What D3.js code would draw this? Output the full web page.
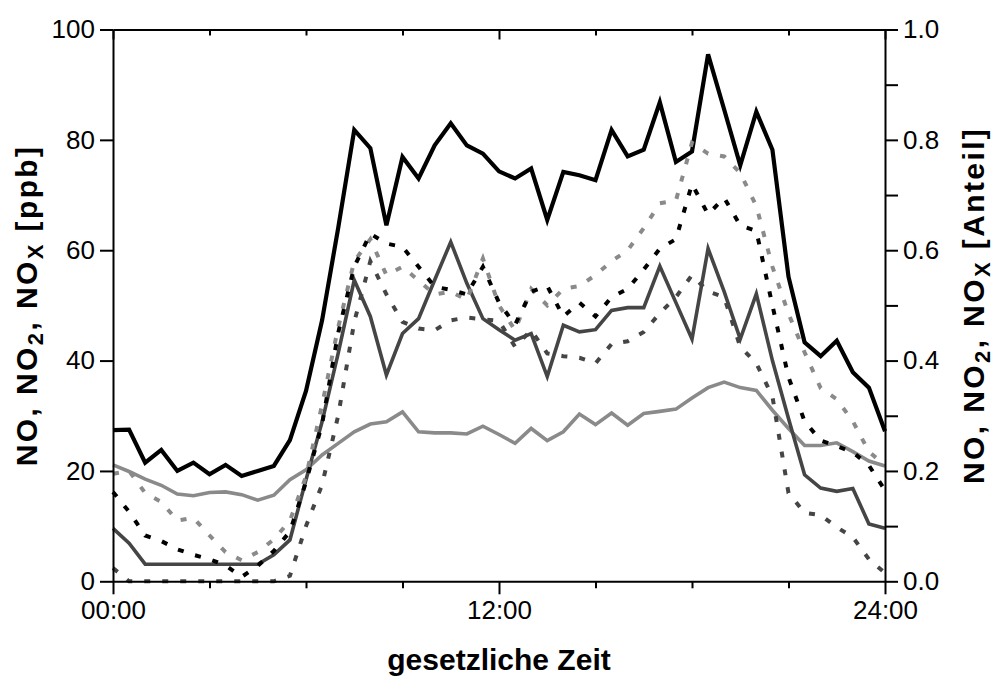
<!DOCTYPE html>
<html>
<head>
<meta charset="utf-8">
<script src="https://cdn.jsdelivr.net/npm/d3@7"></script>
<style>
  body { margin: 0; background: #fff; }
  svg text { font-family: Arial, "Liberation Sans", Helvetica, sans-serif; fill: #000; }
</style>
</head>
<body>
<svg id="chart" width="997" height="679"></svg>
<script>
// Half-hourly time steps over one day (hours)
const hours = [0, 0.5, 1, 1.5, 2, 2.5, 3, 3.5, 4, 4.5, 5, 5.5, 6, 6.5, 7, 7.5, 8, 8.5, 9, 9.5,
  10, 10.5, 11, 11.5, 12, 12.5, 13, 13.5, 14, 14.5, 15, 15.5, 16, 16.5, 17, 17.5, 18, 18.5, 19, 19.5,
  20, 20.5, 21, 21.5, 22, 22.5, 23, 23.5, 24];

// Concentrations [ppb]
const noxPpb = [27.4, 27.5, 21.5, 23.8, 20.0, 21.5, 19.4, 21.1, 19.1, 20.0, 20.9, 25.6, 34.5, 47.3, 64.0, 81.8,
  78.5, 64.5, 76.9, 73.0, 79.0, 83.0, 79.0, 77.5, 74.3, 73.0, 74.8, 65.5, 74.2, 73.6, 72.7, 81.8,
  77.0, 78.2, 86.8, 76.0, 77.9, 95.5, 85.5, 75.4, 85.1, 78.2, 55.2, 43.3, 40.8, 43.6, 37.9, 35.1, 27.2];
const noPpb = [9.6, 6.9, 3.1, 3.1, 3.1, 3.1, 3.1, 3.1, 3.1, 3.1, 4.8, 7.5, 18.4, 28.9, 41.3, 54.6,
  48.0, 37.4, 44.9, 47.6, 54.6, 61.5, 54.0, 47.6, 45.6, 43.7, 44.9, 37.1, 46.4, 45.2, 45.6, 49.1,
  49.6, 49.6, 57.1, 50.5, 43.9, 60.3, 52.5, 43.9, 52.1, 40.0, 29.5, 19.3, 16.9, 16.3, 16.8, 10.4, 9.6];
const no2Ppb = [21.1, 19.9, 18.5, 17.4, 15.8, 15.5, 16.1, 16.2, 15.7, 14.7, 15.6, 18.4, 20.2, 22.9, 25.0, 27.1,
  28.5, 28.9, 30.7, 27.1, 26.9, 26.9, 26.7, 28.1, 26.6, 25.0, 27.7, 25.5, 27.1, 30.3, 28.4, 30.5,
  28.3, 30.4, 30.8, 31.2, 33.2, 35.1, 36.1, 35.1, 34.6, 31.0, 27.7, 24.6, 24.6, 25.1, 23.5, 21.8, 20.9];

// Shares [Anteil]
const noxAnteil = [0.162, 0.126, 0.083, 0.073, 0.058, 0.048, 0.040, 0.029, 0.008, 0.028, 0.055, 0.090, 0.180, 0.285, 0.450, 0.570,
  0.630, 0.612, 0.606, 0.570, 0.534, 0.528, 0.520, 0.570, 0.505, 0.465, 0.525, 0.535, 0.480, 0.505, 0.480, 0.515,
  0.530, 0.565, 0.603, 0.620, 0.720, 0.665, 0.695, 0.645, 0.635, 0.500, 0.370, 0.290, 0.255, 0.245, 0.234, 0.210, 0.165];
const no2Anteil = [0.195, 0.200, 0.160, 0.144, 0.110, 0.115, 0.083, 0.053, 0.038, 0.053, 0.076, 0.110, 0.190, 0.320, 0.460, 0.580,
  0.620, 0.555, 0.570, 0.545, 0.520, 0.525, 0.510, 0.585, 0.500, 0.455, 0.530, 0.500, 0.530, 0.535, 0.555, 0.580,
  0.600, 0.640, 0.685, 0.690, 0.795, 0.775, 0.770, 0.740, 0.680, 0.570, 0.485, 0.415, 0.350, 0.330, 0.290, 0.235, 0.210];
const noAnteil = [0.024, 0, 0, 0, 0, 0, 0, 0, 0, 0, 0, 0.010, 0.100, 0.175, 0.300, 0.470,
  0.580, 0.520, 0.470, 0.458, 0.455, 0.473, 0.478, 0.475, 0.472, 0.425, 0.455, 0.413, 0.408, 0.405, 0.395, 0.430,
  0.435, 0.452, 0.486, 0.515, 0.555, 0.525, 0.515, 0.425, 0.395, 0.335, 0.160, 0.124, 0.120, 0.098, 0.080, 0.040, 0.015];

// Axis ticks and labels
const timeTicks = [0, 3, 6, 9, 12, 15, 18, 21, 24];
const timeLabels = { 0: "00:00", 12: "12:00", 24: "24:00" };
const ppbTicks = [0, 20, 40, 60, 80, 100];
const anteilTicks = [0, 0.1, 0.2, 0.3, 0.4, 0.5, 0.6, 0.7, 0.8, 0.9, 1.0];

const svg = d3.select("#chart");
const plotLeft = 113, plotRight = 885, plotTop = 29.5, plotBottom = 581.3;

const x = d3.scaleLinear().domain([0, 24]).range([plotLeft, plotRight]);
const yL = d3.scaleLinear().domain([0, 100]).range([plotBottom, plotTop]);
const yR = d3.scaleLinear().domain([0, 1]).range([plotBottom, plotTop]);

// Series drawing order: solid concentration lines, then dotted share lines
const series = [
  { values: no2Ppb, scale: yL, color: "#8a8a8a", width: 3.6, dash: null },
  { values: noPpb, scale: yL, color: "#454545", width: 3.6, dash: null },
  { values: noxPpb, scale: yL, color: "#000000", width: 4.2, dash: null },
  { values: noAnteil, scale: yR, color: "#454545", width: 4, dash: "6,12" },
  { values: no2Anteil, scale: yR, color: "#8a8a8a", width: 4, dash: "6,12" },
  { values: noxAnteil, scale: yR, color: "#000000", width: 4, dash: "6,12" }
];

const plot = svg.append("g");
series.forEach(s => {
  const line = d3.line()
    .x((d, i) => x(hours[i]))
    .y(d => s.scale(d));
  plot.append("path")
    .datum(s.values)
    .attr("d", line)
    .attr("fill", "none")
    .attr("stroke", s.color)
    .attr("stroke-width", s.width)
    .attr("stroke-linejoin", "miter")
    .attr("stroke-dasharray", s.dash);
});

const tickFont = "26px";

// Bottom axis
const gB = svg.append("g").attr("transform", `translate(0,${plotBottom})`)
  .call(d3.axisBottom(x).tickValues(timeTicks).tickSizeOuter(0).tickPadding(4)
    .tickFormat(d => timeLabels[d] || ""));
gB.selectAll(".tick line").attr("y2", d => (d % 12 === 0 ? 13 : 7));
gB.selectAll(".tick text").attr("y", 19);

// Top axis (inward ticks, no labels)
const gT = svg.append("g").attr("transform", `translate(0,${plotTop})`)
  .call(d3.axisTop(x).tickValues(timeTicks).tickSizeOuter(0).tickFormat(""));
gT.selectAll(".tick line").attr("y2", d => (d % 12 === 0 ? 10 : 6));

// Left axis
const gL = svg.append("g").attr("transform", `translate(${plotLeft},0)`)
  .call(d3.axisLeft(yL).tickValues(ppbTicks).tickSize(13).tickSizeOuter(0).tickPadding(5)
    .tickFormat(d3.format("d")));

// Right axis
const gR = svg.append("g").attr("transform", `translate(${plotRight},0)`)
  .call(d3.axisRight(yR).tickValues(anteilTicks).tickSize(13).tickSizeOuter(0).tickPadding(5)
    .tickFormat(d => (Math.round(d * 10) % 2 === 0 ? d3.format(".1f")(d) : "")));

[gB, gT, gL, gR].forEach(g => {
  g.select(".domain").attr("stroke", "#000").attr("stroke-width", 2);
  g.selectAll(".tick line").attr("stroke", "#000").attr("stroke-width", 2);
  g.selectAll(".tick text").style("font-size", tickFont)
    .style("font-family", "Arial, 'Liberation Sans', sans-serif").attr("fill", "#000");
});

// Axis titles
svg.append("text")
  .attr("x", (plotLeft + plotRight) / 2).attr("y", 670)
  .attr("text-anchor", "middle")
  .style("font-size", "30px").style("font-weight", "bold")
  .text("gesetzliche Zeit");

function vTitle(cx, unit) {
  const t = svg.append("text")
    .attr("transform", `translate(${cx},${(plotTop + plotBottom) / 2}) rotate(-90)`)
    .attr("text-anchor", "middle")
    .style("font-size", "30px").style("font-weight", "bold")
    .style("letter-spacing", "2.4px");
  const parts = [["NO, NO", 0], ["2", 1], [", NO", 0], ["X", 1], [" " + unit, 0]];
  parts.forEach(([s, sub]) => {
    const ts = t.append("tspan").text(s);
    if (sub) ts.attr("dy", "0.28em").style("font-size", "22px");
    else if (s !== "NO, NO") ts.attr("dy", "-0.2em");
  });
  return t;
}
vTitle(37, "[ppb]");
vTitle(984, "[Anteil]");
</script>
</body>
</html>
